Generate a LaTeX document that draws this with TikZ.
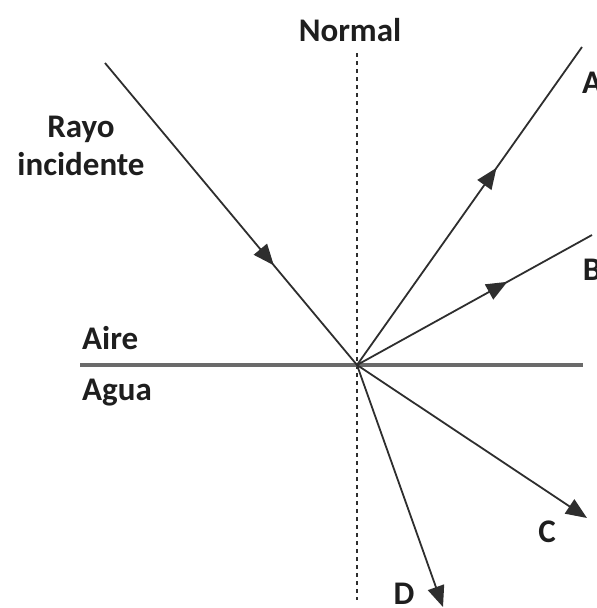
\documentclass[tikz,border=0pt]{standalone}
\usepackage{fontspec}
\setmainfont{Carlito}
\usetikzlibrary{arrows.meta,positioning,decorations.markings}
\definecolor{ray}{HTML}{2E2E2E}
\definecolor{surface}{HTML}{6A6A6A}
\definecolor{ink}{HTML}{1E1E1E}

\begin{document}
\begin{tikzpicture}[x=1pt,y=-1pt,
  lbl/.style={text=ink,font=\fontsize{33}{38}\selectfont\bfseries,inner sep=0pt},
  raybase/.style={draw=ray,line width=1.8pt},
  midarrow/.style={raybase,postaction={decorate},decoration={markings,mark=at position #1 with {\arrow{Triangle[length=21pt,width=17pt]}}}},
  endarrow/.style={raybase,-{Triangle[length=21pt,width=17pt]}}]
\useasboundingbox (0,0) rectangle (597,608);
% end points
\coordinate (o) at (357,365);
\coordinate (src) at (105,63);
\coordinate (aend) at (582,47);
\coordinate (bend) at (592,235);
\coordinate (cend) at (587,518);
\coordinate (dend) at (443,607);
\coordinate (ntop) at (357,53);
\coordinate (nbot) at (357,600);
\coordinate (sleft) at (80,365);
\coordinate (sright) at (583,365);
% normal and surface
\draw[ray,line width=2.4pt,dash pattern=on 4pt off 4pt] (ntop)--(nbot);
\draw[surface,line width=3.5pt] (sleft)--(sright);
% rays
\draw[midarrow=0.67] (src)--(o);
\draw[midarrow=0.62] (o)--(aend);
\draw[midarrow=0.64] (o)--(bend);
\foreach \e in {cend,dend}{\draw[endarrow] (o)--(\e);}
% labels
\node[lbl] (normal) at (350,30) {Normal};
\node[lbl,align=center] (inc) at (81,146) {Rayo\\incidente};
\node[lbl,anchor=west] (aire) at (82,338) {Aire};
\node[lbl,anchor=west] (agua) at (82,393) {Agua};
\node[lbl] (la) at (592,83) {A};
\node[lbl] (lb) at (592,270) {B};
\node[lbl] (lc) at (547,532) {C};
\node[lbl] (ld) at (404,594) {D};
\end{tikzpicture}
\end{document}
